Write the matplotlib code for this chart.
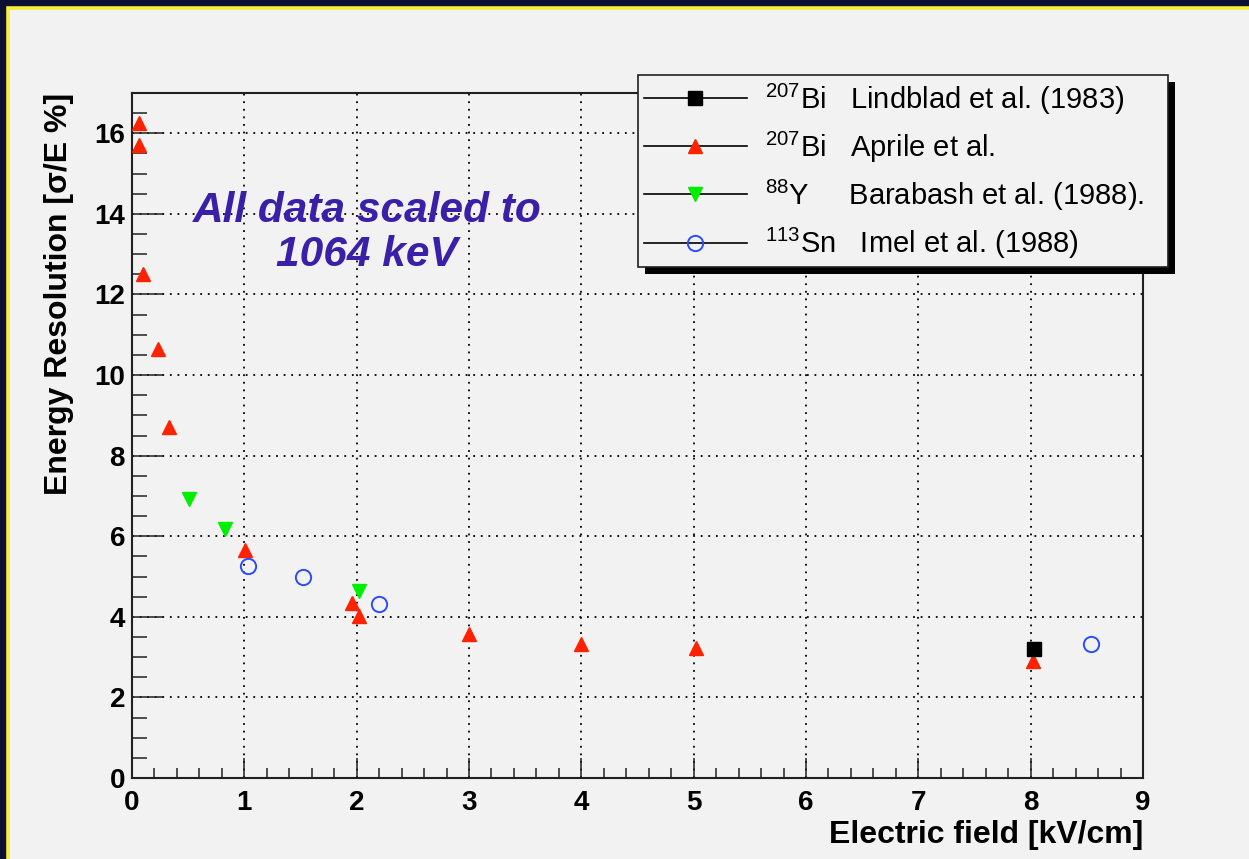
import matplotlib
matplotlib.use("Agg")
import matplotlib.pyplot as plt
from matplotlib.lines import Line2D
from matplotlib.patches import Rectangle
from matplotlib.transforms import IdentityTransform
from matplotlib.ticker import MultipleLocator

plt.rcParams['font.family'] = ['Liberation Sans', 'DejaVu Sans']
plt.rcParams['mathtext.fontset'] = 'custom'
plt.rcParams['mathtext.rm'] = 'Liberation Sans'
plt.rcParams['mathtext.it'] = 'Liberation Sans:italic'
plt.rcParams['mathtext.bf'] = 'Liberation Sans:bold'

# 207Bi, Lindblad et al. (1983)
lindblad_field = [8.03]
lindblad_res = [3.2]

# 207Bi, Aprile et al.
aprile_field = [0.06, 0.06, 0.1, 0.23, 0.33, 1.01, 1.96, 2.02, 3.0, 4.0, 5.02, 8.02]
aprile_res = [16.25, 15.7, 12.5, 10.65, 8.7, 5.65, 4.35, 4.02, 3.58, 3.32, 3.22, 2.9]

# 88Y, Barabash et al. (1988)
barabash_field = [0.51, 0.83, 2.02]
barabash_res = [6.93, 6.17, 4.63]

# 113Sn, Imel et al. (1988)
imel_field = [1.03, 1.52, 2.2, 8.54]
imel_res = [5.26, 4.98, 4.31, 3.32]

legend_labels = [
    r"$^{207}$Bi   Lindblad et al. (1983)",
    r"$^{207}$Bi   Aprile et al.",
    r"$^{88}$Y     Barabash et al. (1988).",
    r"$^{113}$Sn   Imel et al. (1988)",
]

RED, GREEN, BLUE = "#ff2200", "#00ee00", "#2b4cff"
BG = "#f2f2f2"
W, H = 1249, 859

fig = plt.figure(figsize=(W / 100, H / 100), dpi=100, facecolor="#0b1033")

# light slide panel with the yellow rim
panel = Rectangle((8 / W, -0.05), 1.1, 1.05 - 8.5 / H,
                  transform=fig.transFigure, facecolor=BG,
                  edgecolor="#f5ee3a", linewidth=2.6, zorder=-10)
fig.add_artist(panel)

ax = fig.add_axes([132 / W, 81 / H, 1011 / W, 685 / H])
ax.set_facecolor(BG)

ax.plot(aprile_field, aprile_res, ls="none", marker="^", ms=9.5,
        color=RED, mec=RED, zorder=3)
ax.plot(barabash_field, barabash_res, ls="none", marker="v", ms=10,
        color=GREEN, mec=GREEN, zorder=3)
ax.plot(imel_field, imel_res, ls="none", marker="o", ms=11, mfc="none",
        mec=BLUE, mew=1.4, zorder=3)
ax.plot(lindblad_field, lindblad_res, ls="none", marker="s", ms=10,
        color="black", zorder=4)

ax.set_xlim(0, 9)
ax.set_ylim(0, 17)
ax.xaxis.set_major_locator(MultipleLocator(1))
ax.xaxis.set_minor_locator(MultipleLocator(0.2))
ax.yaxis.set_major_locator(MultipleLocator(2))
ax.yaxis.set_minor_locator(MultipleLocator(0.5))

ax.grid(True, which="major", color="black", linestyle=(0, (1, 3.2)), lw=1.3)
ax.set_axisbelow(True)

for s in ax.spines.values():
    s.set_linewidth(1.5)
    s.set_color("#202020")

ax.tick_params(which="both", direction="in", top=False, right=False,
               width=1.1, color="#202020")
ax.tick_params(axis="x", which="major", length=14.5, pad=8.5,
               labelsize=20)
ax.tick_params(axis="x", which="minor", length=7)
ax.tick_params(axis="y", which="major", length=22, pad=5, labelsize=20)
ax.tick_params(axis="y", which="minor", length=11)
for lab in ax.get_xticklabels() + ax.get_yticklabels():
    lab.set_fontweight("bold")

ax.set_xlabel("Electric field [kV/cm]", fontsize=23, fontweight="bold",
              loc="right")
ax.set_ylabel("Energy Resolution [σ/E %]", fontsize=23, fontweight="bold",
              loc="top")
ax.xaxis.set_label_coords(1.0, -0.062)
ax.yaxis.set_label_coords(-0.057, 1.0)

ax.text(2.09, 13.52, "All data scaled to\n1064 keV", ha="center", va="center",
        fontsize=30.5, fontweight="bold", fontstyle="italic",
        color="#3a20a8", linespacing=1.13)

handles = [
    Line2D([], [], color="black", lw=1.2, marker="s", ms=10, mfc="black",
           mec="black"),
    Line2D([], [], color="black", lw=1.2, marker="^", ms=9.5, mfc=RED,
           mec=RED),
    Line2D([], [], color="black", lw=1.2, marker="v", ms=10, mfc=GREEN,
           mec=GREEN),
    Line2D([], [], color="black", lw=1.2, marker="o", ms=11, mfc="none",
           mec=BLUE, mew=1.4),
]
leg = fig.legend(handles, legend_labels, loc="upper left",
                 bbox_to_anchor=(638 / W, 1 - 75 / H, 530 / W, 0),
                 mode="expand", borderaxespad=0, fontsize=21,
                 handlelength=3.5, handletextpad=0.65, borderpad=0.22,
                 labelspacing=0.44, numpoints=1, fancybox=False,
                 framealpha=1, facecolor=BG, edgecolor="#202020")
leg.get_frame().set_linewidth(1.2)
leg.set_zorder(6)

# solid drop shadow under the legend box
fig.canvas.draw()
bb = leg.get_window_extent()
shadow = Rectangle((bb.x0 + 7, bb.y0 - 7), bb.width, bb.height,
                   transform=IdentityTransform(), facecolor="black",
                   edgecolor="none", zorder=5)
fig.add_artist(shadow)

fig.savefig("out.png", dpi=100, facecolor=fig.get_facecolor())
